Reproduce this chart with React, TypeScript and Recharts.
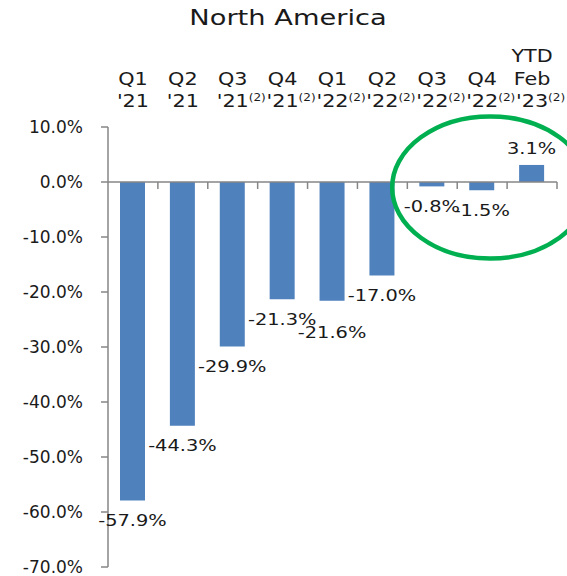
import React from 'react';
import { BarChart, Bar, XAxis, YAxis, ReferenceLine, ReferenceDot, LabelList } from 'recharts';

const topLine = ['', '', '', '', '', '', '', '', 'YTD'];
const quarterLine = ['Q1', 'Q2', 'Q3', 'Q4', 'Q1', 'Q2', 'Q3', 'Q4', 'Feb'];
const yearLine = ["'21", "'21", "'21", "'21", "'22", "'22", "'22", "'22", "'23"];
const footnotes = ['', '', '(2)', '(2)', '(2)', '(2)', '(2)', '(2)', '(2)'];
const growth = [-57.9, -44.3, -29.9, -21.3, -21.6, -17.0, -0.8, -1.5, 3.1];
const yTicks = [10, 0, -10, -20, -30, -40, -50, -60, -70];

const data = growth.map((v, i) => ({
  key: `${topLine[i]} ${quarterLine[i]} ${yearLine[i]}`.trim(),
  value: v,
}));

const FONT = '"DejaVu Sans", Verdana, sans-serif';
const AXIS = '#868686';
const TEXT = '#1a1a1a';

function CategoryTick(props: any) {
  const { x, y, payload } = props;
  const i = payload.index;
  const sx = 1.22;
  const lines = [
    { t: topLine[i], dy: -65 },
    { t: quarterLine[i], dy: -42 },
    { t: yearLine[i], dy: -20 },
  ];
  return (
    <g fontFamily={FONT} fontSize={17} fill={TEXT}>
      {lines.map((l, k) =>
        l.t ? (
          <text key={k} transform={`translate(${x},${y + l.dy}) scale(${sx},1)`} textAnchor="middle">
            {l.t}
          </text>
        ) : null
      )}
      {footnotes[i] ? (
        <text
          transform={`translate(${x + 16},${y - 26}) scale(1.1,1)`}
          textAnchor="start"
          fontSize={11}
        >
          {footnotes[i]}
        </text>
      ) : null}
    </g>
  );
}

function ZeroAxis(props: any) {
  const { x1, x2, y1 } = props;
  if (x1 == null || x2 == null || y1 == null) return null;
  const n = growth.length;
  const step = (x2 - x1) / n;
  return (
    <g>
      <line x1={x1} x2={x2} y1={y1} y2={y1} stroke={AXIS} strokeWidth={1.5} />
      {growth.map((_, k) => (
        <line
          key={k}
          x1={x1 + step * (k + 1)}
          x2={x1 + step * (k + 1)}
          y1={y1}
          y2={y1 + 7}
          stroke={AXIS}
          strokeWidth={1.5}
        />
      ))}
    </g>
  );
}

function ValueLabel(props: any) {
  const { x, y, width, height, value, index } = props;
  const top = Math.min(y, y + height);
  const bottom = Math.max(y, y + height);
  const cx = x + width / 2;
  const prev = index > 0 ? growth[index - 1] : null;
  const nudge = prev != null && value < 0 && prev < 0 && Math.abs(value - prev) < 0.5 ? 12 : 0;
  const cy = value < 0 ? bottom + 20 + nudge : top - 17;
  return (
    <text
      transform={`translate(${cx},${cy}) scale(1.25,1)`}
      textAnchor="middle"
      dy="0.36em"
      fontFamily={FONT}
      fontSize={15.5}
      fill={TEXT}
    >
      {`${value.toFixed(1)}%`}
    </text>
  );
}

function Ring(props: any) {
  const { cx, cy } = props;
  if (cx == null || cy == null) return null;
  return (
    <ellipse cx={cx + 8} cy={cy} rx={98} ry={71} fill="none" stroke="#00b050" strokeWidth={4.5} />
  );
}

export default function App() {
  return (
    <div style={{ position: 'absolute', left: 0, top: 0, width: 567, height: 576, background: '#fff' }}>
      <svg width={567} height={40} style={{ position: 'absolute', left: 0, top: 0 }}>
        <text
          transform="translate(288,25) scale(1.33,1)"
          textAnchor="middle"
          fontFamily={FONT}
          fontSize={20.5}
          fill={TEXT}
        >
          North America
        </text>
      </svg>
      <BarChart
        width={567}
        height={576}
        data={data}
        margin={{ top: 47, right: 10, bottom: 9, left: 0 }}
        barCategoryGap="50%"
      >
        <XAxis
          dataKey="key"
          orientation="top"
          height={80}
          axisLine={false}
          tickLine={false}
          tickSize={0}
          tickMargin={0}
          interval={0}
          tick={<CategoryTick />}
        />
        <YAxis
          width={108}
          domain={[-70, 10]}
          ticks={yTicks}
          interval={0}
          tickFormatter={(v: number) => `${v.toFixed(1)}%`}
          axisLine={{ stroke: AXIS, strokeWidth: 1.5 }}
          tickLine={{ stroke: AXIS, strokeWidth: 1.5 }}
          tickSize={7}
          tickMargin={18}
          tick={{ fill: TEXT, fontSize: 17, fontFamily: FONT }}
        />
        <Bar dataKey="value" fill="#4f81bd" barSize={25} isAnimationActive={false}>
          <LabelList dataKey="value" content={<ValueLabel />} />
        </Bar>
        <ReferenceLine y={0} shape={<ZeroAxis />} ifOverflow="visible" />
        <ReferenceDot
          x={data[7].key}
          y={-1}
          r={1}
          ifOverflow="visible"
          shape={<Ring />}
        />
      </BarChart>
    </div>
  );
}
